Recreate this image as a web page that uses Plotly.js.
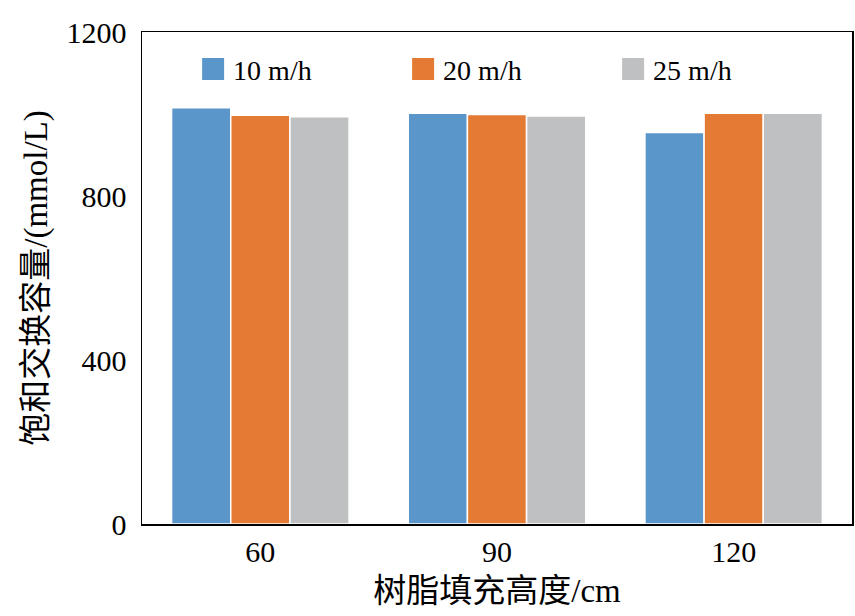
<!DOCTYPE html>
<html>
<head>
<meta charset="utf-8">
<script src="https://cdn.plot.ly/plotly-3.0.1.min.js"></script>
<style>
  body { margin: 0; background: #fff; }
  #chart { width: 855px; height: 616px; }
</style>
</head>
<body>
<div id="chart"></div>
<script>
// resin height categories and the three flow rates
var heights = ['60', '90', '120'];
var rate10 = [1015, 1002, 955];
var rate20 = [997, 999, 1002];
var rate25 = [993, 995, 1002];
var seriesNames = ['10 m/h', '20 m/h', '25 m/h'];
var colors = ['#5b96cb', '#e47b35', '#bfc0c2'];
var yTicks = [0, 400, 800, 1200];

var font = 'Liberation Serif, Times New Roman, Noto Sans CJK SC, serif';

var traces = [rate10, rate20, rate25].map(function (vals, i) {
    return {
        x: heights,
        y: vals,
        name: seriesNames[i],
        type: 'bar',
        marker: { color: colors[i], line: { color: '#ffffff', width: 1.5 } }
    };
});

var layout = {
    width: 855,
    height: 616,
    margin: { l: 142, r: 3, t: 32, b: 92 },
    paper_bgcolor: '#ffffff',
    plot_bgcolor: '#ffffff',
    font: { family: font, size: 30, color: '#000' },
    barmode: 'group',
    bargap: 0.25,
    bargroupgap: 0,
    showlegend: true,
    legend: {
        orientation: 'h',
        x: 0.072,
        y: 0.975,
        xanchor: 'left',
        yanchor: 'top',
        entrywidth: 165,
        bgcolor: 'rgba(0,0,0,0)',
        font: { family: font, size: 28 }
    },
    xaxis: {
        type: 'category',
        showline: true,
        linecolor: '#000',
        linewidth: 1.5,
        mirror: true,
        ticks: '',
        tickfont: { family: font, size: 30 },
        title: { text: '树脂填充高度/cm', font: { family: font, size: 33 }, standoff: 12 }
    },
    yaxis: {
        range: [0, 1200],
        tickvals: yTicks,
        ticktext: yTicks.map(String),
        showgrid: false,
        zeroline: false,
        showline: true,
        linecolor: '#000',
        linewidth: 1.5,
        mirror: true,
        ticks: '',
        ticklabelstandoff: 8,
        tickfont: { family: font, size: 30 },
        title: { text: '饱和交换容量/(mmol/L)', font: { family: font, size: 33 }, standoff: 9 }
    }
};

Plotly.newPlot('chart', traces, layout, { displayModeBar: false, staticPlot: true }).then(function (gd) {
    // the reference uses bigger legend swatches than plotly's default
    gd.querySelectorAll('.legend .legendpoints path').forEach(function (p) {
        p.setAttribute('d', 'M11,11H-11V-11H11Z');
        p.style.strokeWidth = '0';
    });
});
</script>
</body>
</html>
